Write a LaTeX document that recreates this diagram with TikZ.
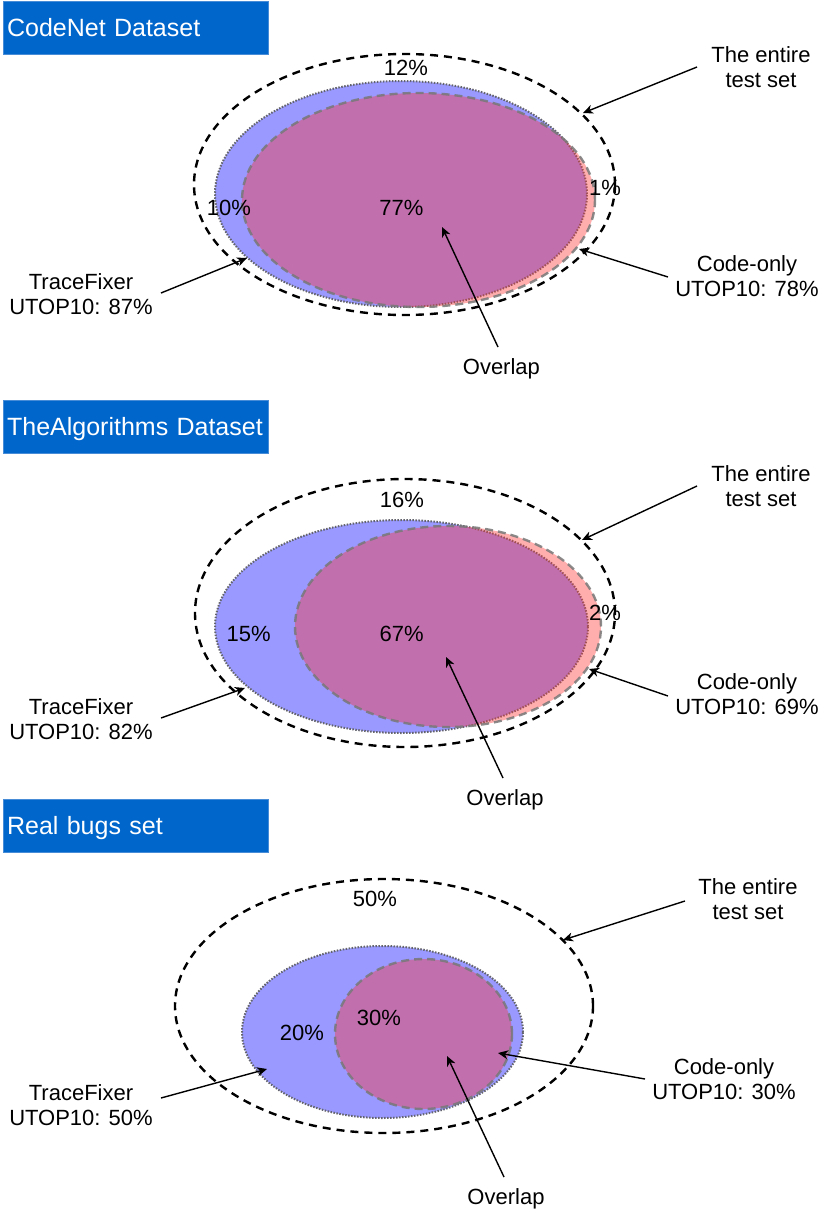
\documentclass[tikz,border=0pt]{standalone}
\usepackage{fontspec}
\setmainfont{Liberation Sans}
\usetikzlibrary{arrows.meta,shapes.geometric}
\definecolor{titleblue}{RGB}{0,102,204}
\definecolor{titleedge}{RGB}{70,140,215}
\definecolor{tfblue}{RGB}{153,153,255}
\definecolor{coral}{RGB}{255,51,51}
\definecolor{edgegray}{RGB}{100,100,110}
\definecolor{dashgray}{RGB}{120,120,120}
\begin{document}
\begin{tikzpicture}[x=1pt,y=-1pt,
  titlebox/.style={rectangle, anchor=north west, fill=titleblue, draw=titleedge, line width=0.8pt,
    text=white, font=\fontsize{25}{30}\selectfont, minimum height=53pt, text width=257.6pt,
    inner xsep=4pt, inner ysep=0pt, align=left, text height=19pt, text depth=2pt},
  outerell/.style={ellipse, inner sep=0pt, draw=black, line width=2.4pt, dash pattern=on 8pt off 6pt},
  tfell/.style={ellipse, inner sep=0pt, fill=tfblue, draw=edgegray, line width=2pt, dash pattern=on 1.5pt off 1.5pt},
  coell/.style={ellipse, inner sep=0pt, fill=coral, fill opacity=0.4, draw=dashgray, draw opacity=0.85, line width=2.4pt, dash pattern=on 8pt off 5pt},
  lbl/.style={font=\fontsize{22}{25.5}\selectfont, align=center, inner sep=0pt, anchor=north},
  pct/.style={font=\fontsize{22}{25.5}\selectfont, inner sep=0pt, anchor=base},
  pointer/.style={draw=black, line width=1.4pt, -{Stealth[length=10pt,width=9pt,inset=3pt]}}
]
\useasboundingbox (0,0) rectangle (831,1223);

% ---------------- Set 1: CodeNet ----------------
\node[titlebox] (t1) at (2.7,1) {CodeNet Dataset};
\node[tfell, minimum width=372pt, minimum height=226pt] (b1) at (401,194) {};
\node[coell, minimum width=353pt, minimum height=214pt] (p1) at (418.5,200) {};
\node[outerell, minimum width=421pt, minimum height=261pt] (o1) at (404.5,184.5) {};
\node[pct] (n12) at (406,76) {12\%};
\node[pct] (n10) at (229,215.7) {10\%};
\node[pct] (n77) at (401.5,215.7) {77\%};
\node[pct] (n1) at (605,195) {1\%};
\node[lbl] (e1) at (761,46) {The entire\\test set};
\node[lbl] (c1) at (747,255) {Code-only\\UTOP10: 78\%};
\node[lbl] (f1) at (81,273) {TraceFixer\\UTOP10: 87\%};
\node[pct] (v1) at (501.4,374.3) {Overlap};
\coordinate (e1s) at (697,67);  \coordinate (e1t) at (583,113);
\coordinate (c1s) at (668,277); \coordinate (c1t) at (579,249);
\coordinate (f1s) at (161,293); \coordinate (f1t) at (247,258);
\coordinate (v1s) at (498,347); \coordinate (v1t) at (442,227);
\draw[pointer] (e1s) -- (e1t);
\draw[pointer] (c1s) -- (c1t);
\draw[pointer] (f1s) -- (f1t);
\draw[pointer] (v1s) -- (v1t);

% ---------------- Set 2: TheAlgorithms ----------------
\node[titlebox] (t2) at (2.7,400) {TheAlgorithms Dataset};
\node[tfell, minimum width=373pt, minimum height=213pt] (b2) at (401.5,626.5) {};
\node[coell, minimum width=306pt, minimum height=201pt] (p2) at (448,626.5) {};
\node[outerell, minimum width=420pt, minimum height=268pt] (o2) at (405,613) {};
\node[pct] (n16) at (402,507.3) {16\%};
\node[pct] (n15) at (248.7,641) {15\%};
\node[pct] (n67) at (401.7,641) {67\%};
\node[pct] (n2) at (605,620.7) {2\%};
\node[lbl] (e2) at (761,465) {The entire\\test set};
\node[lbl] (c2) at (747,673) {Code-only\\UTOP10: 69\%};
\node[lbl] (f2) at (81,698) {TraceFixer\\UTOP10: 82\%};
\node[pct] (v2) at (505,805) {Overlap};
\coordinate (e2s) at (697,486); \coordinate (e2t) at (582,540);
\coordinate (c2s) at (668,696); \coordinate (c2t) at (589,669);
\coordinate (f2s) at (161,718); \coordinate (f2t) at (245,688);
\coordinate (v2s) at (503,778); \coordinate (v2t) at (446,657);
\draw[pointer] (e2s) -- (e2t);
\draw[pointer] (c2s) -- (c2t);
\draw[pointer] (f2s) -- (f2t);
\draw[pointer] (v2s) -- (v2t);

% ---------------- Set 3: Real bugs ----------------
\node[titlebox] (t3) at (2.7,799) {Real bugs set};
\node[tfell, minimum width=281pt, minimum height=172pt] (b3) at (382.5,1032) {};
\node[coell, minimum width=177pt, minimum height=150pt] (p3) at (423.5,1034) {};
\node[outerell, minimum width=418pt, minimum height=254pt] (o3) at (384,1006) {};
\node[pct] (n50) at (375,906.7) {50\%};
\node[pct] (n20) at (302,1040) {20\%};
\node[pct] (n30) at (379,1025.7) {30\%};
\node[lbl] (e3) at (748,878) {The entire\\test set};
\node[lbl] (c3) at (724,1058) {Code-only\\UTOP10: 30\%};
\node[lbl] (f3) at (81,1084) {TraceFixer\\UTOP10: 50\%};
\node[pct] (v3) at (506,1204) {Overlap};
\coordinate (e3s) at (685,901);  \coordinate (e3t) at (563,940);
\coordinate (c3s) at (645,1079); \coordinate (c3t) at (498,1053);
\coordinate (f3s) at (161,1098); \coordinate (f3t) at (267,1069);
\coordinate (v3s) at (504,1177); \coordinate (v3t) at (447,1056);
\draw[pointer] (e3s) -- (e3t);
\draw[pointer] (c3s) -- (c3t);
\draw[pointer] (f3s) -- (f3t);
\draw[pointer] (v3s) -- (v3t);
\end{tikzpicture}
\end{document}
